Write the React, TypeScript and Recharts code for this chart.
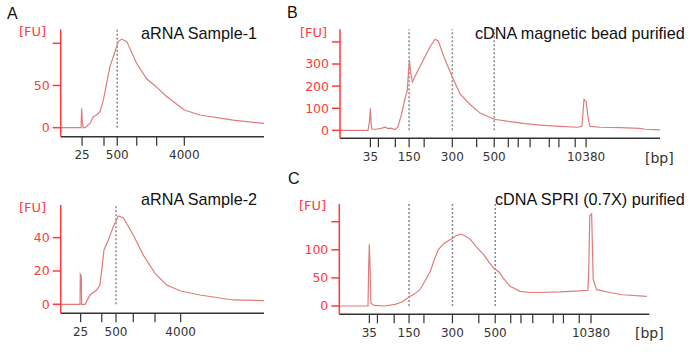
import { LineChart, Line, XAxis, YAxis, ReferenceLine } from "recharts";

// migration time (0-100, arbitrary units) and fluorescence [FU] per trace
const A1_TIME = [0, 10.0, 10.3, 10.6, 11.0, 12.0, 14.4, 16.0, 17.7, 19.3, 21.0, 22.3, 24.2, 26.7, 28.3, 30.0, 32.5, 37.4, 42.3, 47.2, 52.1, 60.8, 68.5, 84.8, 100];
const A1_FU = [0, 0, 23, 8, 0, 0, 5, 13, 15, 19, 33, 49, 72, 90, 102, 105, 102, 76, 58, 48, 37, 21, 15, 9, 5];

const A2_TIME = [0, 9.5, 9.65, 10.1, 10.3, 12.0, 14.4, 17.7, 19.3, 20.2, 21.3, 23.4, 25.9, 28.3, 30.8, 35.7, 40.6, 46.4, 52.1, 59.0, 68.5, 84.8, 100];
const A2_FU = [0, 0, 18, 17, 0, 0, 5.6, 8.6, 11.6, 20.6, 32.6, 38.6, 46.6, 53, 52, 41.6, 29.6, 18.6, 11.6, 8, 5.6, 2.6, 2.2];

const B_TIME = [0, 8.75, 9.2, 9.5, 9.7, 10.0, 11.25, 13.1, 14.1, 15.0, 15.9, 17.2, 18.1, 19.3, 20.3, 21.0, 21.4, 21.7, 22.0, 22.6, 24.0, 26.0, 28.1, 29.7, 30.7, 32.8, 35.1, 37.5, 40.6, 43.75, 48.2, 53.1, 57.8, 62.5, 68.75, 74.4, 75.6, 76.25, 76.9, 77.5, 78.1, 81.25, 87.5, 93.75, 95.3, 100];
const B_FU = [0, 0, 40, 100, 30, 5, 5, 10, 14, 8, 10, 3, 15, 77, 144, 180, 260, 318, 270, 219, 260, 317, 377, 412, 404, 320, 241, 165, 118, 78, 50, 39, 30, 24, 18, 14, 18, 140, 130, 60, 18, 14, 12, 9, 5, 2];

const C_TIME = [0, 9.26, 9.48, 9.68, 9.9, 10.2, 11.2, 14.7, 18.0, 20.2, 22.5, 24.4, 26.0, 27.6, 29.3, 30.5, 31.9, 33.5, 35.1, 36.5, 37.6, 39.2, 40.5, 42.2, 44.1, 46.5, 48.3, 49.7, 51.6, 52.8, 55.1, 58.3, 61.5, 64.7, 71.2, 77.6, 80.2, 80.5, 80.8, 81.4, 81.9, 83.0, 87.3, 91.5, 99.2];
const C_FU = [0, 0, 70, 110, 72, 5, 1, 0, 3, 7, 16, 22, 29, 44, 61, 80, 100, 110, 116, 120, 125, 128, 125, 119, 106, 92, 78, 68, 60, 50, 35, 26, 24, 24, 25, 27, 28, 71, 161, 164, 47, 29, 24, 20, 17];

// ladder ticks (time positions) and their bp labels
const A1_XTICKS = [10.5, 21.3, 27.8, 37.4, 47.2, 60.8];
const A2_XTICKS = [9.8, 20.2, 27.2, 35.7, 46.4, 59.0];
const A_XLABELS = ["25", "", "500", "", "", "4000"];
const B_XTICKS = [9.5, 12.0, 17.3, 21.6, 26.3, 35.1, 42.7, 48.2, 52.6, 55.7, 59.4, 65.4, 68.4, 73.5, 76.9];
const C_XTICKS = [9.7, 12.3, 17.7, 22.5, 27.3, 36.5, 45.0, 50.3, 55.3, 58.6, 62.4, 69.0, 72.3, 77.4, 81.2];
const BC_XLABELS = ["35", "", "", "150", "", "300", "", "500", "", "", "", "", "", "", "10380"];

const A1_YTICKS = [0, 50, 100];
const A1_YLABELS = ["0", "50", ""];
const A2_YTICKS = [0, 20, 40];
const A2_YLABELS = ["0", "20", "40"];
const B_YTICKS = [0, 100, 200, 300, 400];
const B_YLABELS = ["0", "100", "200", "300", ""];
const C_YTICKS = [0, 50, 100, 150];
const C_YLABELS = ["0", "50", "100", ""];

// dotted marker lines (time positions)
const A1_MARKERS = [27.8];
const A2_MARKERS = [27.2];
const B_MARKERS = [21.6, 35.1, 48.2];
const C_MARKERS = [22.5, 36.5, 50.3];

const RED = "#ff3b3b";
const TRACE = "#e07b7b";
const DARK = "#333";
const AXIS_FONT = "'DejaVu Sans', Verdana, sans-serif";
const TITLE_FONT = "'Liberation Sans', Arial, sans-serif";

const zip = (t: number[], v: number[]) => t.map((x, i) => ({ t: x, fu: v[i] }));

interface PanelProps {
  left: number;
  top: number;
  width: number;
  height: number;
  margin: { top: number; right: number; bottom: number; left: number };
  data: { t: number; fu: number }[];
  xTicks: number[];
  xLabels: string[];
  yTicks: number[];
  yLabels: string[];
  yDomain: [number, number];
  markers: number[];
}

function Panel(p: PanelProps) {
  const xLabel = (v: number) => {
    const i = p.xTicks.indexOf(v);
    return i >= 0 ? p.xLabels[i] : "";
  };
  const yLabel = (v: number) => {
    const i = p.yTicks.indexOf(v);
    return i >= 0 ? p.yLabels[i] : "";
  };
  return (
    <div style={{ position: "absolute", left: p.left, top: p.top }}>
      <LineChart width={p.width} height={p.height} data={p.data} margin={p.margin}>
        <XAxis
          dataKey="t"
          type="number"
          domain={[0, 100]}
          ticks={p.xTicks}
          interval={0}
          tickFormatter={xLabel}
          height={30}
          tickSize={9}
          tickMargin={5}
          axisLine={{ stroke: DARK, strokeWidth: 1.5 }}
          tickLine={{ stroke: DARK, strokeWidth: 1.2 }}
          tick={{ fill: DARK, fontSize: 12, fontFamily: AXIS_FONT }}
          allowDataOverflow
        />
        <YAxis
          type="number"
          domain={p.yDomain}
          ticks={p.yTicks}
          interval={0}
          tickFormatter={yLabel}
          width={50}
          tickSize={8}
          tickMargin={3}
          axisLine={{ stroke: RED, strokeWidth: 1.5 }}
          tickLine={{ stroke: RED, strokeWidth: 1.5 }}
          tick={{ fill: RED, fontSize: 12.5, fontFamily: AXIS_FONT }}
          allowDataOverflow
        />
        {p.markers.map((m) => (
          <ReferenceLine
            key={m}
            segment={[
              { x: m, y: 0 },
              { x: m, y: p.yDomain[1] },
            ]}
            stroke="#8a8a8a"
            strokeWidth={1.5}
            strokeDasharray="2 2"
          />
        ))}
        <Line
          dataKey="fu"
          type="linear"
          stroke={TRACE}
          strokeWidth={1.2}
          dot={false}
          isAnimationActive={false}
        />
      </LineChart>
    </div>
  );
}

function Txt({ x, y, text, color = "#111", size = 16.2, font = TITLE_FONT }: { x: number; y: number; text: string; color?: string; size?: number; font?: string }) {
  return (
    <div
      style={{
        position: "absolute",
        left: x,
        top: y,
        color,
        fontSize: size,
        fontFamily: font,
        lineHeight: 1,
        whiteSpace: "nowrap",
      }}
    >
      {text}
    </div>
  );
}

export default function App() {
  return (
    <div style={{ position: "absolute", left: 0, top: 0, width: 700, height: 363, background: "#fff", overflow: "hidden" }}>
      <Panel
        left={0}
        top={0}
        width={280}
        height={180}
        margin={{ top: 29.3, right: 16, bottom: 13.3, left: 10.7 }}
        data={zip(A1_TIME, A1_FU)}
        xTicks={A1_XTICKS}
        xLabels={A_XLABELS}
        yTicks={A1_YTICKS}
        yLabels={A1_YLABELS}
        yDomain={[-10.7, 116.6]}
        markers={A1_MARKERS}
      />
      <Panel
        left={0}
        top={180}
        width={280}
        height={183}
        margin={{ top: 25, right: 16, bottom: 19.7, left: 10.7 }}
        data={zip(A2_TIME, A2_FU)}
        xTicks={A2_XTICKS}
        xLabels={A_XLABELS}
        yTicks={A2_YTICKS}
        yLabels={A2_YLABELS}
        yDomain={[-5.4, 59.6]}
        markers={A2_MARKERS}
      />
      <Panel
        left={280}
        top={0}
        width={420}
        height={180}
        margin={{ top: 29.3, right: 40, bottom: 11.7, left: 10 }}
        data={zip(B_TIME, B_FU)}
        xTicks={B_XTICKS}
        xLabels={BC_XLABELS}
        yTicks={B_YTICKS}
        yLabels={B_YLABELS}
        yDomain={[-36, 457]}
        markers={B_MARKERS}
      />
      <Panel
        left={280}
        top={180}
        width={420}
        height={183}
        margin={{ top: 24, right: 50.7, bottom: 18.7, left: 9.3 }}
        data={zip(C_TIME, C_FU)}
        xTicks={C_XTICKS}
        xLabels={BC_XLABELS}
        yTicks={C_YTICKS}
        yLabels={C_YLABELS}
        yDomain={[-14.8, 181.5]}
        markers={C_MARKERS}
      />

      <Txt x={7} y={6} text="A" size={16} />
      <Txt x={287} y={5} text="B" size={16} />
      <Txt x={288} y={171} text="C" size={16} />

      <Txt x={19} y={25} text="[FU]" color={RED} size={13} font={AXIS_FONT} />
      <Txt x={19} y={201} text="[FU]" color={RED} size={13} font={AXIS_FONT} />
      <Txt x={300} y={26} text="[FU]" color={RED} size={13} font={AXIS_FONT} />
      <Txt x={299} y={199} text="[FU]" color={RED} size={13} font={AXIS_FONT} />

      <Txt x={645} y={151} text="[bp]" color={DARK} size={14} font={AXIS_FONT} />
      <Txt x={635} y={326} text="[bp]" color={DARK} size={14} font={AXIS_FONT} />

      <Txt x={141} y={25} text="aRNA Sample-1" />
      <Txt x={141} y={191} text="aRNA Sample-2" />
      <Txt x={475} y={25} text="cDNA magnetic bead purified" />
      <Txt x={495} y={191} text="cDNA SPRI (0.7X) purified" />
    </div>
  );
}
